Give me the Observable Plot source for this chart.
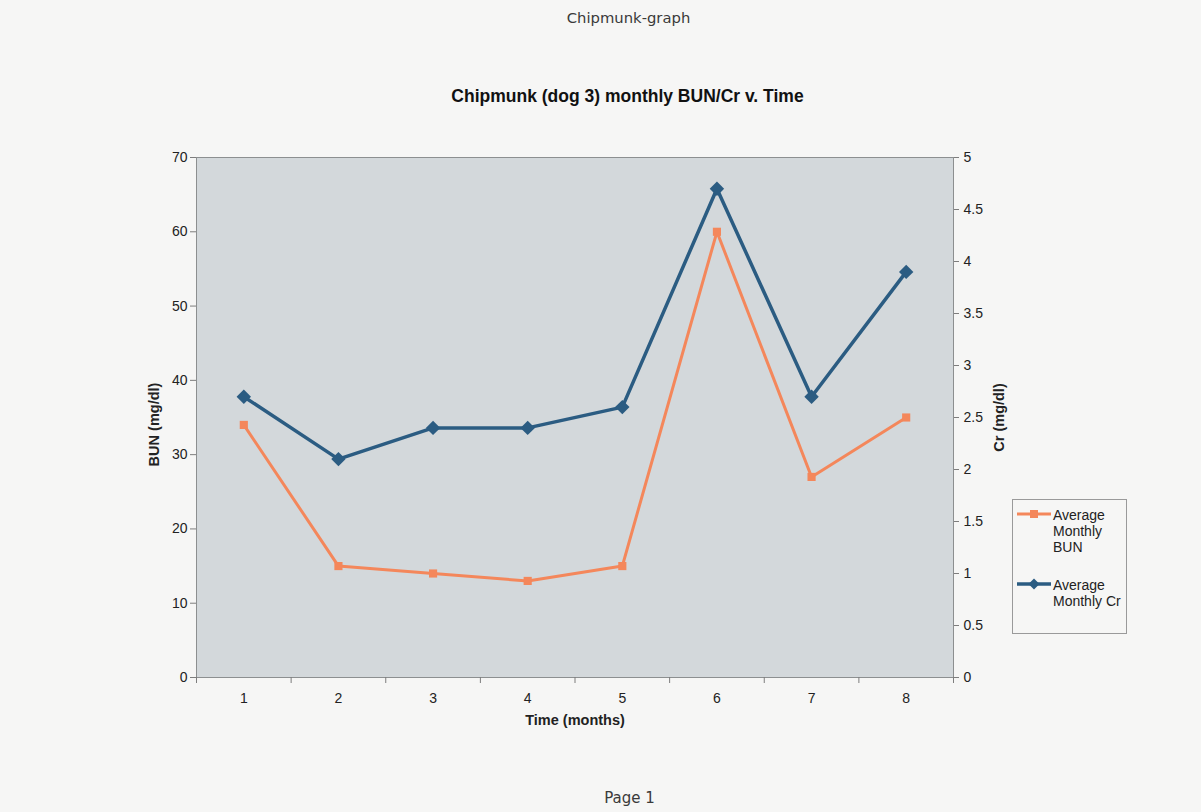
<!DOCTYPE html>
<html>
<head>
<meta charset="utf-8">
<script src="https://cdn.jsdelivr.net/npm/d3@7"></script>
<script src="https://cdn.jsdelivr.net/npm/@observablehq/plot@0.6"></script>
<style>
  html, body { margin: 0; padding: 0; background: #f6f6f5; }
  #page { position: relative; width: 1201px; height: 812px; overflow: hidden; background: #f6f6f5; }
  #chart { position: absolute; left: 0; top: 0; }
  .abs { position: absolute; white-space: nowrap; }
  #header { left: 0; width: 1257px; top: 9px; text-align: center; font: 14.8px "DejaVu Sans", sans-serif; color: #3a3a3a; }
  #title { left: 0; width: 1255px; top: 86px; text-align: center; font: bold 17.5px "Liberation Sans", Arial, sans-serif; color: #111; }
  #footer { left: 0; width: 1259px; top: 789px; text-align: center; font: 15px "DejaVu Sans", sans-serif; color: #3a3a3a; }
  #legend { left: 1012px; top: 499px; width: 115px; height: 135px; border: 1px solid #9a9a9a; box-sizing: border-box; font: 14px "Liberation Sans", Arial, sans-serif; color: #222; }
  .entry { position: absolute; left: 3px; }
  .entry svg { position: absolute; left: 0; top: 0; }
  .entry .lbl { position: absolute; left: 37px; top: 0; line-height: 16px; }
</style>
</head>
<body>
<div id="page">
  <div id="chart"></div>
  <div id="header" class="abs">Chipmunk-graph</div>
  <div id="title" class="abs">Chipmunk (dog 3) monthly BUN/Cr v. Time</div>
  <div id="footer" class="abs">Page 1</div>
  <div id="legend" class="abs">
    <div class="entry" style="top:7px;">
      <svg width="36" height="16"><line x1="1" x2="35" y1="7" y2="7" stroke="#f4875b" stroke-width="3"/><rect x="14" y="3" width="8" height="8" fill="#f4875b"/></svg>
      <div class="lbl">Average<br>Monthly<br>BUN</div>
    </div>
    <div class="entry" style="top:77px;">
      <svg width="36" height="16"><line x1="1" x2="35" y1="7" y2="7" stroke="#2b5c82" stroke-width="3.5"/><path d="M18,1.5 L23.5,7 L18,12.5 L12.5,7 Z" fill="#2b5c82"/></svg>
      <div class="lbl">Average<br>Monthly Cr</div>
    </div>
  </div>
</div>
<script>
// Data
const months = [1, 2, 3, 4, 5, 6, 7, 8];
const bun = [34, 15, 14, 13, 15, 60, 27, 35];
const cr = [2.7, 2.1, 2.4, 2.4, 2.6, 4.7, 2.7, 3.9];
const bunTicks = [0, 10, 20, 30, 40, 50, 60, 70];
const crTicks = [0, 0.5, 1, 1.5, 2, 2.5, 3, 3.5, 4, 4.5, 5];
const xTickBounds = [0.5, 1.5, 2.5, 3.5, 4.5, 5.5, 6.5, 7.5, 8.5];

const ratio = 70 / 5; // Cr axis 0–5 aligned with BUN axis 0–70
const bunData = months.map((m, i) => ({month: m, value: bun[i]}));
const crData = months.map((m, i) => ({month: m, value: cr[i]}));

const orange = "#f4875b";
const blue = "#2b5c82";
const axisColor = "#7d7d7d";
const font = "'Liberation Sans', Arial, sans-serif";

const chart = Plot.plot({
  width: 1201,
  height: 812,
  marginLeft: 196,
  marginRight: 248,
  marginTop: 157,
  marginBottom: 135,
  style: {background: "transparent", fontFamily: font, fontSize: "14px", color: "#222"},
  x: {type: "linear", domain: [0.5, 8.5]},
  y: {domain: [0, 70]},
  marks: [
    Plot.frame({fill: "#d3d8db", stroke: "#8c8f90"}),
    Plot.axisY({ticks: bunTicks, tickSize: 6, tickPadding: 3, stroke: axisColor, label: null, fontSize: 14}),
    Plot.axisY({anchor: "right", ticks: crTicks.map(t => t * ratio), tickFormat: d => String(+(d / ratio).toFixed(1)), tickSize: 5, tickPadding: 5, stroke: axisColor, label: null, fontSize: 14}),
    Plot.axisX({ticks: xTickBounds, tickSize: 6, tickFormat: () => "", stroke: axisColor, label: null}),
    Plot.axisX({ticks: months, tickSize: 0, tickPadding: 16, tickFormat: d => String(d), label: null, fontSize: 14}),
    Plot.text(["BUN (mg/dl)"], {frameAnchor: "left", dx: -42, dy: 7, rotate: -90, textAnchor: "middle", fontWeight: "bold", fontSize: 14.5}),
    Plot.text(["Cr (mg/dl)"], {frameAnchor: "right", dx: 46, rotate: -90, textAnchor: "middle", fontWeight: "bold", fontSize: 14.5}),
    Plot.text(["Time (months)"], {frameAnchor: "bottom", dy: 47, textAnchor: "middle", fontWeight: "bold", fontSize: 14.5}),
    Plot.line(bunData, {x: "month", y: "value", stroke: orange, strokeWidth: 3}),
    Plot.dot(bunData, {x: "month", y: "value", symbol: "square", r: 4.6, fill: orange}),
    Plot.line(crData, {x: "month", y: d => d.value * ratio, stroke: blue, strokeWidth: 3.5}),
    Plot.dot(crData, {x: "month", y: d => d.value * ratio, symbol: "diamond2", r: 6.5, fill: blue})
  ]
});
document.getElementById("chart").append(chart);
</script>
</body>
</html>
